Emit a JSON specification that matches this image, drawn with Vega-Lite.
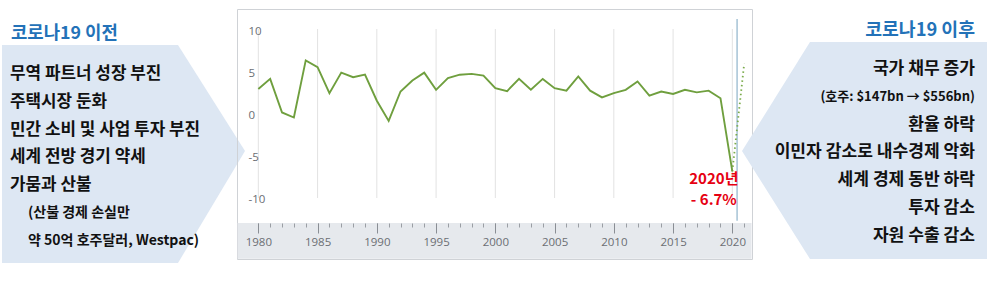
{
  "$schema": "https://vega.github.io/schema/vega-lite/v6.json",
  "padding": {"left": 0, "top": 8, "right": 0, "bottom": 0},
  "spacing": 0,
  "bounds": "flush",
  "config": {"view": {"stroke": null}, "font": "Noto Sans CJK KR"},
  "datasets": {
    "before": [
      {"line": 0, "role": "title", "text": "코로나19 이전"},
      {"line": 1, "role": "main", "text": "무역 파트너 성장 부진"},
      {"line": 2, "role": "main", "text": "주택시장 둔화"},
      {"line": 3, "role": "main", "text": "민간 소비 및 사업 투자 부진"},
      {"line": 4, "role": "main", "text": "세계 전방 경기 약세"},
      {"line": 5, "role": "main", "text": "가뭄과 산불"},
      {"line": 6, "role": "note", "text": "(산불 경제 손실만"},
      {"line": 7, "role": "note", "text": "약 50억 호주달러, Westpac)"}
    ],
    "after": [
      {"line": 0, "role": "title", "text": "코로나19 이후"},
      {"line": 1, "role": "main", "text": "국가 채무 증가"},
      {"line": 2, "role": "note", "text": "(호주: $147bn → $556bn)"},
      {"line": 3, "role": "main", "text": "환율 하락"},
      {"line": 4, "role": "main", "text": "이민자 감소로 내수경제 악화"},
      {"line": 5, "role": "main", "text": "세계 경제 동반 하락"},
      {"line": 6, "role": "main", "text": "투자 감소"},
      {"line": 7, "role": "main", "text": "자원 수출 감소"}
    ],
    "gdp": [
      {"year": 1980, "value": 3.1, "type": "actual"},
      {"year": 1981, "value": 4.3, "type": "actual"},
      {"year": 1982, "value": 0.3, "type": "actual"},
      {"year": 1983, "value": -0.3, "type": "actual"},
      {"year": 1984, "value": 6.5, "type": "actual"},
      {"year": 1985, "value": 5.7, "type": "actual"},
      {"year": 1986, "value": 2.6, "type": "actual"},
      {"year": 1987, "value": 5.05, "type": "actual"},
      {"year": 1988, "value": 4.5, "type": "actual"},
      {"year": 1989, "value": 4.8, "type": "actual"},
      {"year": 1990, "value": 1.7, "type": "actual"},
      {"year": 1991, "value": -0.7, "type": "actual"},
      {"year": 1992, "value": 2.8, "type": "actual"},
      {"year": 1993, "value": 4.1, "type": "actual"},
      {"year": 1994, "value": 5.05, "type": "actual"},
      {"year": 1995, "value": 3.0, "type": "actual"},
      {"year": 1996, "value": 4.4, "type": "actual"},
      {"year": 1997, "value": 4.8, "type": "actual"},
      {"year": 1998, "value": 4.9, "type": "actual"},
      {"year": 1999, "value": 4.7, "type": "actual"},
      {"year": 2000, "value": 3.2, "type": "actual"},
      {"year": 2001, "value": 2.85, "type": "actual"},
      {"year": 2002, "value": 4.3, "type": "actual"},
      {"year": 2003, "value": 3.0, "type": "actual"},
      {"year": 2004, "value": 4.3, "type": "actual"},
      {"year": 2005, "value": 3.2, "type": "actual"},
      {"year": 2006, "value": 2.9, "type": "actual"},
      {"year": 2007, "value": 4.6, "type": "actual"},
      {"year": 2008, "value": 2.9, "type": "actual"},
      {"year": 2009, "value": 2.1, "type": "actual"},
      {"year": 2010, "value": 2.6, "type": "actual"},
      {"year": 2011, "value": 3.0, "type": "actual"},
      {"year": 2012, "value": 4.0, "type": "actual"},
      {"year": 2013, "value": 2.3, "type": "actual"},
      {"year": 2014, "value": 2.8, "type": "actual"},
      {"year": 2015, "value": 2.5, "type": "actual"},
      {"year": 2016, "value": 3.0, "type": "actual"},
      {"year": 2017, "value": 2.7, "type": "actual"},
      {"year": 2018, "value": 2.9, "type": "actual"},
      {"year": 2019, "value": 2.0, "type": "actual"},
      {"year": 2020, "value": -6.7, "type": "actual"},
      {"year": 2020, "value": -6.7, "type": "projection"},
      {"year": 2021, "value": 6.1, "type": "projection"}
    ],
    "grid": [
      {"year": 1980}, {"year": 1985}, {"year": 1990}, {"year": 1995},
      {"year": 2000}, {"year": 2005}, {"year": 2010}, {"year": 2015}, {"year": 2020}
    ],
    "note": [
      {"year": 2020, "value": -6.7, "label": "2020년\n- 6.7%"}
    ]
  },
  "hconcat": [
    {
      "width": 237,
      "height": 279,
      "data": {"name": "before"},
      "layer": [
        {
          "transform": [{"filter": {"field": "line", "equal": 4}}],
          "mark": {"type": "point", "filled": true, "opacity": 1, "strokeWidth": 0, "color": "#dde7f3", "size": 4,
            "shape": "M2,-112.4 L178,-112.4 L245,-6.4 L178,105.6 L2,105.6 Z"},
          "encoding": {
            "x": {"datum": 0, "type": "quantitative", "scale": {"domain": [0, 1]}, "axis": null},
            "y": {"field": "line", "type": "quantitative", "scale": {"domain": [-1.338, 8.698], "reverse": true, "nice": false, "zero": false}, "axis": null}
          }
        },
        {
          "transform": [{"filter": {"field": "role", "equal": "title"}}],
          "mark": {"type": "text", "align": "left", "baseline": "middle", "dx": 11, "dy": -12, "fontSize": 17.8, "fontWeight": "bold", "color": "#2372b8"},
          "encoding": {
            "x": {"datum": 0, "type": "quantitative", "scale": {"domain": [0, 1]}, "axis": null},
            "y": {"field": "line", "type": "quantitative", "scale": {"domain": [-1.338, 8.698], "reverse": true, "nice": false, "zero": false}, "axis": null},
            "text": {"field": "text"}
          }
        },
        {
          "transform": [{"filter": {"field": "role", "equal": "main"}}],
          "mark": {"type": "text", "align": "left", "baseline": "middle", "dx": 10, "fontSize": 16.9, "fontWeight": "bold", "color": "#111111"},
          "encoding": {
            "x": {"datum": 0, "type": "quantitative", "scale": {"domain": [0, 1]}, "axis": null},
            "y": {"field": "line", "type": "quantitative", "scale": {"domain": [-1.338, 8.698], "reverse": true, "nice": false, "zero": false}, "axis": null},
            "text": {"field": "text"}
          }
        },
        {
          "transform": [{"filter": {"field": "role", "equal": "note"}}],
          "mark": {"type": "text", "align": "left", "baseline": "middle", "dx": 28, "fontSize": 14, "fontWeight": "bold", "color": "#111111"},
          "encoding": {
            "x": {"datum": 0, "type": "quantitative", "scale": {"domain": [0, 1]}, "axis": null},
            "y": {"field": "line", "type": "quantitative", "scale": {"domain": [-1.338, 8.698], "reverse": true, "nice": false, "zero": false}, "axis": null},
            "text": {"field": "text"}
          }
        }
      ]
    },
    {
      "width": 515,
      "height": 250,
      "view": {"stroke": "#cfd2d6", "strokeWidth": 1},
      "resolve": {"axis": {"x": "independent", "y": "independent"}},
      "layer": [
        {
          "data": {"values": [{"band": "axis"}]},
          "mark": {"type": "rect", "color": "#e6e9ed"},
          "encoding": {
            "x": {"datum": 1978.25, "type": "quantitative", "scale": {"domain": [1978.2, 2021.66], "nice": false, "zero": false}, "axis": null},
            "x2": {"datum": 2021.62},
            "y": {"datum": -12.86, "type": "quantitative", "scale": {"domain": [-17.14, 12.62], "nice": false, "zero": false}, "axis": null},
            "y2": {"datum": -17.1}
          }
        },
        {
          "data": {"name": "grid"},
          "mark": {"type": "rule", "color": "#e2e2e2", "strokeWidth": 1},
          "encoding": {
            "x": {"field": "year", "type": "quantitative", "scale": {"domain": [1978.2, 2021.66], "nice": false, "zero": false},
              "axis": {"orient": "bottom", "offset": -36, "zindex": 2, "values": [1980,1981,1982,1983,1984,1985,1986,1987,1988,1989,1990,1991,1992,1993,1994,1995,1996,1997,1998,1999,2000,2001,2002,2003,2004,2005,2006,2007,2008,2009,2010,2011,2012,2013,2014,2015,2016,2017,2018,2019,2020,2021],
                "labels": false, "domain": false, "grid": false, "ticks": true, "tickSize": 4, "tickColor": "#9a9ea4", "title": null}},
            "y": {"datum": 10.24, "type": "quantitative", "scale": {"domain": [-17.14, 12.62], "nice": false, "zero": false}, "axis": null},
            "y2": {"datum": -9.88}
          }
        },
        {
          "data": {"values": [{"marker": "now"}]},
          "mark": {"type": "rule", "color": "#8fb3cb", "strokeWidth": 1.2},
          "encoding": {
            "x": {"datum": 2020.4, "type": "quantitative", "scale": {"domain": [1978.2, 2021.66], "nice": false, "zero": false}, "axis": null},
            "y": {"datum": 11.43, "type": "quantitative", "scale": {"domain": [-17.14, 12.62], "nice": false, "zero": false}, "axis": null},
            "y2": {"datum": -12.6}
          }
        },
        {
          "data": {"name": "gdp"},
          "transform": [{"filter": {"field": "type", "equal": "projection"}}],
          "mark": {"type": "line", "color": "#7aab4a", "strokeWidth": 1.8, "strokeDash": [1.5, 3]},
          "encoding": {
            "x": {"field": "year", "type": "quantitative", "scale": {"domain": [1978.2, 2021.66], "nice": false, "zero": false}, "axis": null},
            "y": {"field": "value", "type": "quantitative", "scale": {"domain": [-17.14, 12.62], "nice": false, "zero": false}, "axis": null}
          }
        },
        {
          "data": {"name": "gdp"},
          "transform": [{"filter": {"field": "type", "equal": "actual"}}],
          "mark": {"type": "line", "color": "#6f9f3e", "strokeWidth": 1.9},
          "encoding": {
            "x": {"field": "year", "type": "quantitative", "scale": {"domain": [1978.2, 2021.66], "nice": false, "zero": false},
              "axis": {"orient": "bottom", "offset": -36, "zindex": 2, "values": [1980,1985,1990,1995,2000,2005,2010,2015,2020],
                "format": "d", "domain": false, "grid": false, "ticks": true, "tickSize": 10, "tickColor": "#8a8e94",
                "labelPadding": 3, "labelFont": "Open Sans", "labelFontSize": 11.5, "labelColor": "#6b6e73", "title": null}},
            "y": {"field": "value", "type": "quantitative", "scale": {"domain": [-17.14, 12.62], "nice": false, "zero": false},
              "axis": {"orient": "left", "zindex": 2, "values": [-10, -5, 0, 5, 10], "labelExpr": "'' + datum.value", "domain": false, "grid": false, "ticks": false,
                "labelAlign": "left", "labelBaseline": "middle", "labelPadding": -11, "labelFont": "Open Sans", "labelFontSize": 11.5, "labelColor": "#6b6e73", "title": null}}
          }
        },
        {
          "data": {"name": "note"},
          "mark": {"type": "text", "align": "center", "baseline": "middle", "dx": -18.5, "dy": 8, "lineBreak": "\n", "lineHeight": 21, "fontSize": 15, "fontWeight": "bold", "color": "#e60012"},
          "encoding": {
            "x": {"field": "year", "type": "quantitative", "scale": {"domain": [1978.2, 2021.66], "nice": false, "zero": false}, "axis": null},
            "y": {"field": "value", "type": "quantitative", "scale": {"domain": [-17.14, 12.62], "nice": false, "zero": false}, "axis": null},
            "text": {"field": "label"}
          }
        }
      ]
    },
    {
      "width": 235,
      "height": 279,
      "data": {"name": "after"},
      "layer": [
        {
          "transform": [{"filter": {"field": "line", "equal": 4}}],
          "mark": {"type": "point", "filled": true, "opacity": 1, "strokeWidth": 0, "color": "#dde7f3", "size": 4,
            "shape": "M-245,-1.4 L-177,-110.4 L0,-110.4 L0,106.6 L-177,106.6 Z"},
          "encoding": {
            "x": {"datum": 1, "type": "quantitative", "scale": {"domain": [0, 1]}, "axis": null},
            "y": {"field": "line", "type": "quantitative", "scale": {"domain": [-1.158, 8.878], "reverse": true, "nice": false, "zero": false}, "axis": null}
          }
        },
        {
          "transform": [{"filter": {"field": "role", "equal": "title"}}],
          "mark": {"type": "text", "align": "right", "baseline": "middle", "dx": -12, "dy": -10, "fontSize": 18.3, "fontWeight": "bold", "color": "#2372b8"},
          "encoding": {
            "x": {"datum": 1, "type": "quantitative", "scale": {"domain": [0, 1]}, "axis": null},
            "y": {"field": "line", "type": "quantitative", "scale": {"domain": [-1.158, 8.878], "reverse": true, "nice": false, "zero": false}, "axis": null},
            "text": {"field": "text"}
          }
        },
        {
          "transform": [{"filter": {"field": "role", "equal": "main"}}],
          "mark": {"type": "text", "align": "right", "baseline": "middle", "dx": -12, "fontSize": 17.1, "fontWeight": "bold", "color": "#111111"},
          "encoding": {
            "x": {"datum": 1, "type": "quantitative", "scale": {"domain": [0, 1]}, "axis": null},
            "y": {"field": "line", "type": "quantitative", "scale": {"domain": [-1.158, 8.878], "reverse": true, "nice": false, "zero": false}, "axis": null},
            "text": {"field": "text"}
          }
        },
        {
          "transform": [{"filter": {"field": "role", "equal": "note"}}],
          "mark": {"type": "text", "align": "right", "baseline": "middle", "dx": -12, "fontSize": 13, "fontWeight": "bold", "color": "#111111"},
          "encoding": {
            "x": {"datum": 1, "type": "quantitative", "scale": {"domain": [0, 1]}, "axis": null},
            "y": {"field": "line", "type": "quantitative", "scale": {"domain": [-1.158, 8.878], "reverse": true, "nice": false, "zero": false}, "axis": null},
            "text": {"field": "text"}
          }
        }
      ]
    }
  ]
}
